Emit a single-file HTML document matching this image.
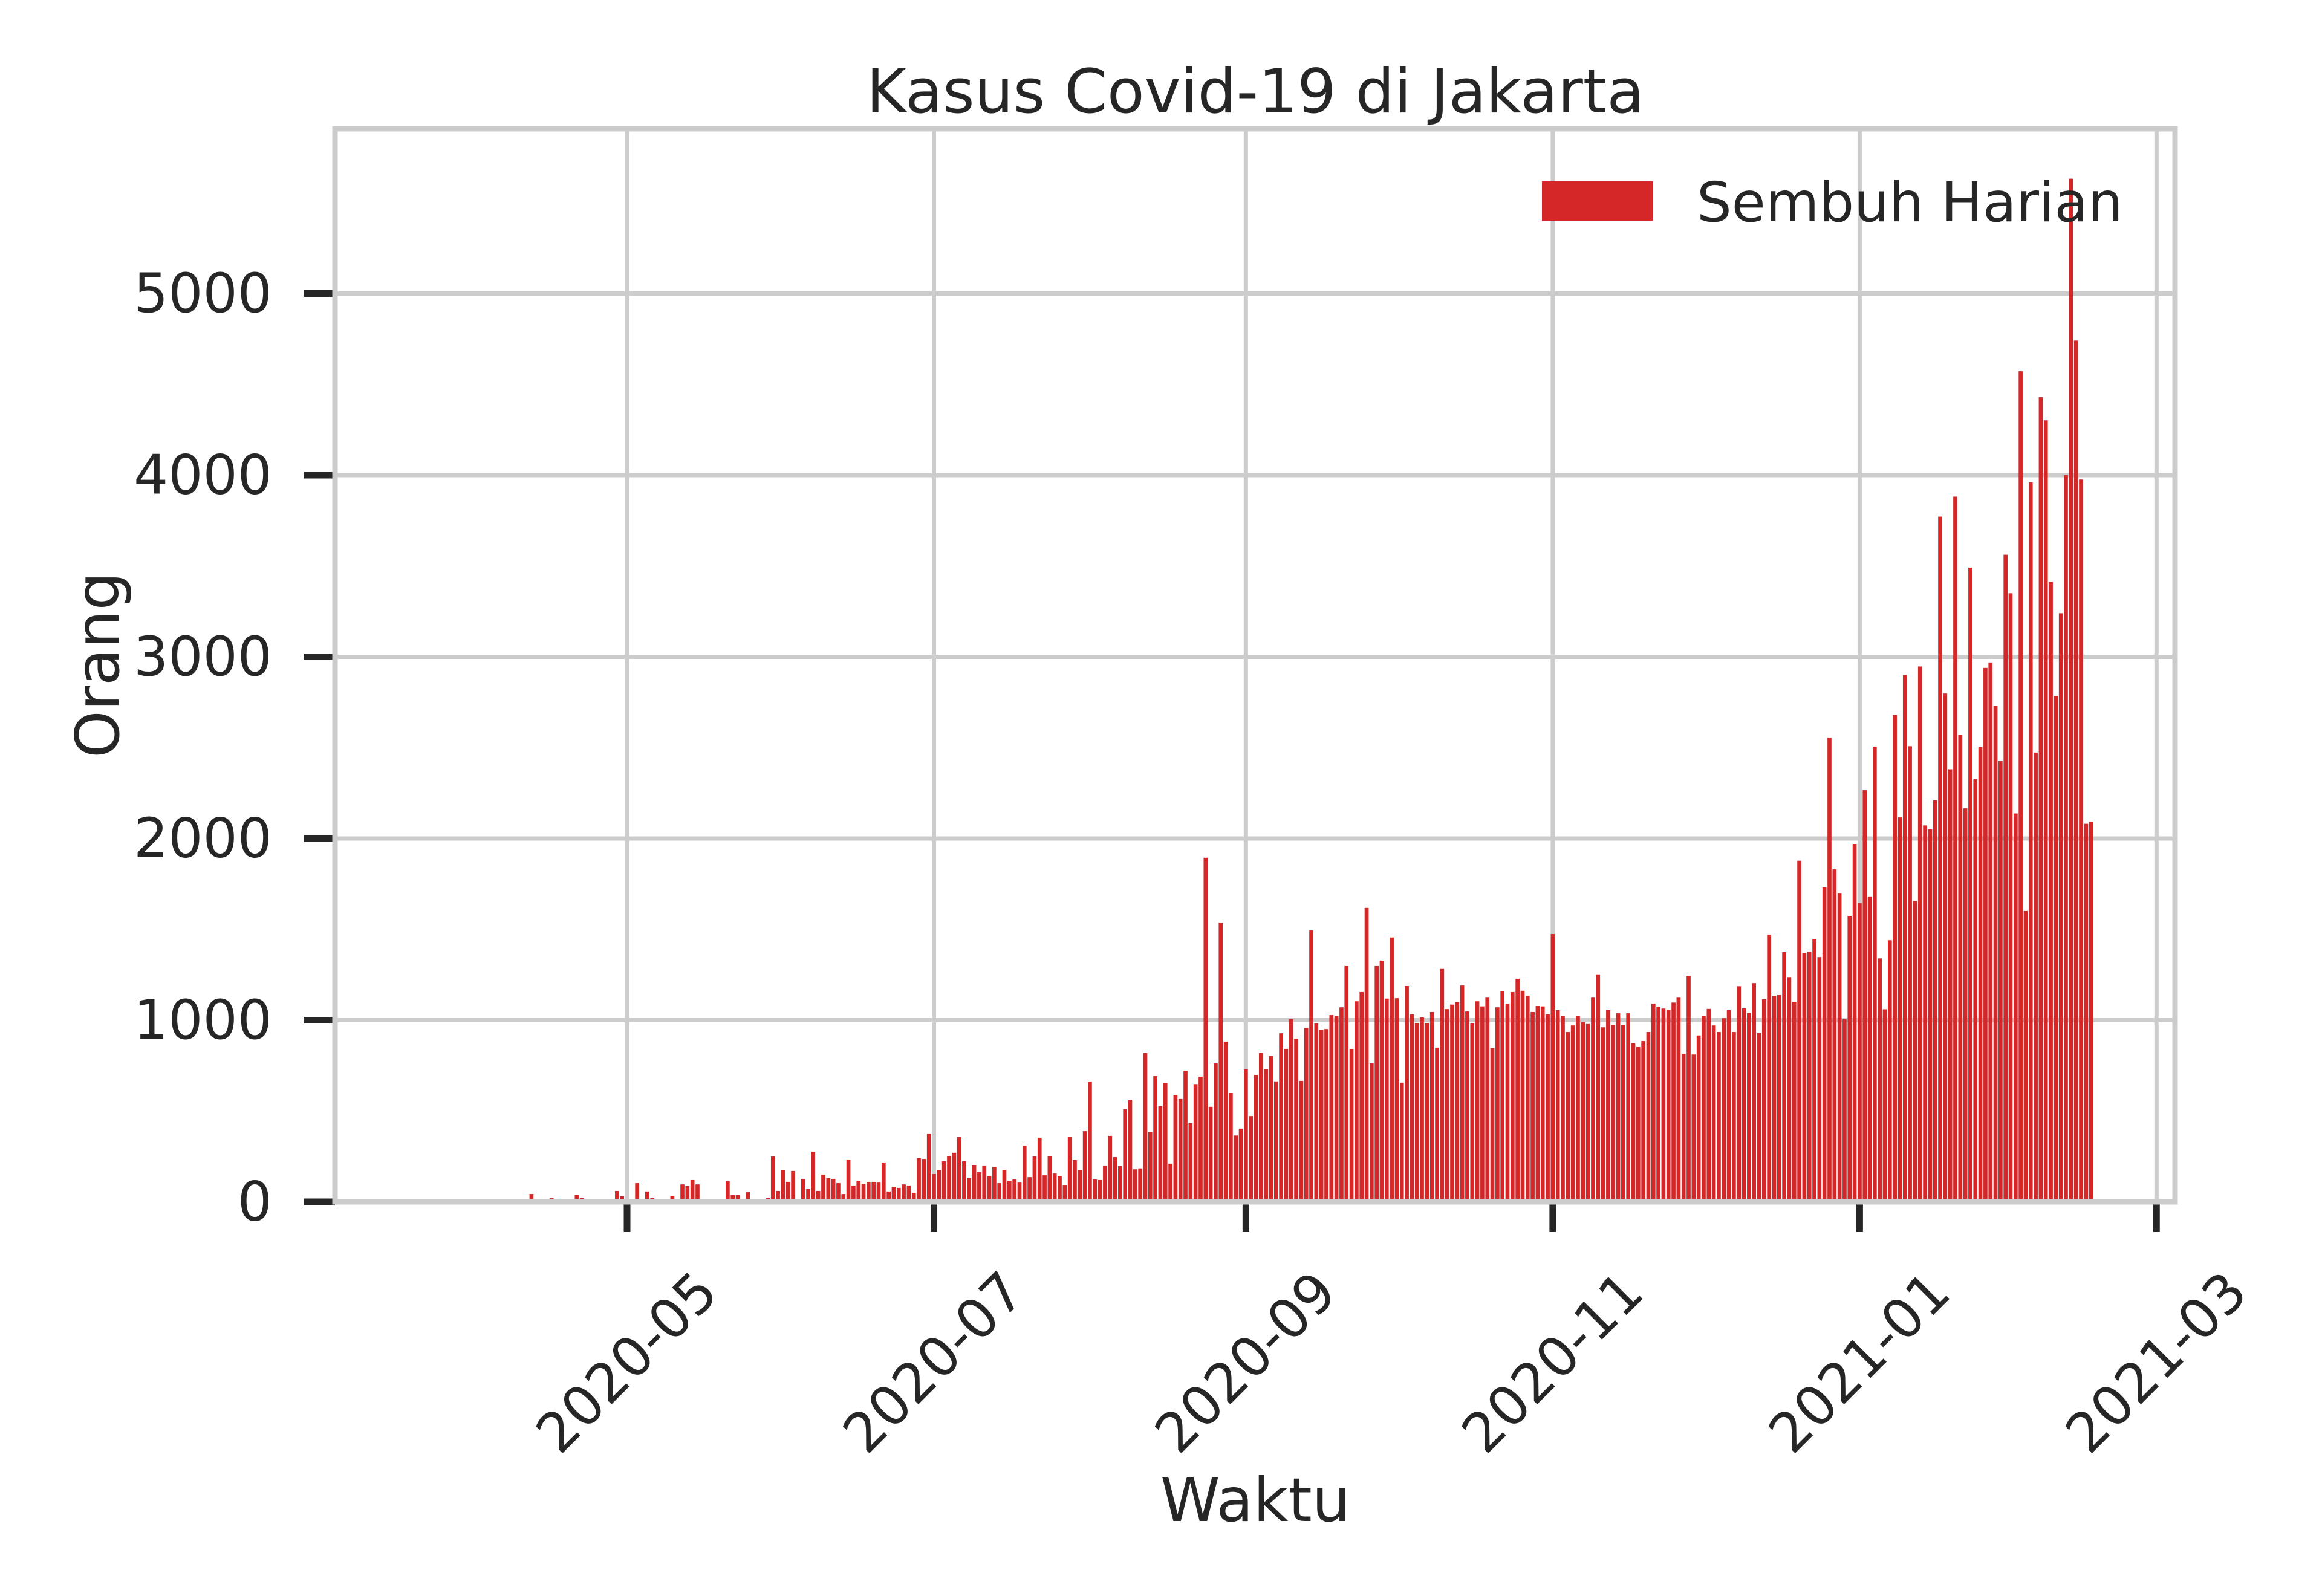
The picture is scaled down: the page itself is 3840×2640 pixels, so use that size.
<!DOCTYPE html>
<html><head><meta charset="utf-8"><style>
html,body{margin:0;padding:0;background:#fff;}
svg{display:block;font-family:"DejaVu Sans","Liberation Sans",sans-serif;}
</style></head><body>
<svg id="chart" width="3840" height="2640" viewBox="0 0 3840 2640" xmlns="http://www.w3.org/2000/svg">
<rect x="0" y="0" width="3840" height="2640" fill="#ffffff"/>
<g id="grid"></g>
<g id="bars"></g>
<g id="axes"></g>
<text x="2076" y="186" font-size="101" text-anchor="middle" fill="#262626">Kasus Covid-19 di Jakarta</text>
<text x="2076" y="2516" font-size="100" text-anchor="middle" fill="#262626">Waktu</text>
<text x="0" y="0" font-size="100" text-anchor="middle" fill="#262626" transform="translate(196,1100) rotate(-90)">Orang</text>
<g>
<rect x="2550" y="300" width="183" height="65" fill="#d62728"/>
<text x="2806" y="366" font-size="91" fill="#262626">Sembuh Harian</text>
</g>
</svg>
<script>
const startDate = "2020-04-12";
const recovered = [
43,0,3,0,20,0,0,13,0,40,20,0,0,0,0,0,10,60,30,
0,10,103,0,57,20,0,0,0,33,0,96,87,120,96,3,0,0,7,0,113,37,37,7,53,0,0,3,20,250,60,
173,110,170,3,126,70,276,60,150,130,126,103,43,233,90,116,100,110,110,106,216,57,83,77,96,90,50,240,236,376,
153,173,223,253,270,356,223,130,203,163,200,143,193,103,176,116,123,106,309,136,250,353,146,253,156,143,93,359,230,173,389,
662,123,120,200,363,246,197,510,559,179,184,819,386,692,526,653,210,589,566,722,433,648,689,1894,523,762,1537,882,599,365,403,
729,472,699,819,732,803,663,928,842,1005,898,666,958,1494,982,945,951,1028,1025,1071,1298,842,1104,1155,1618,762,1298,1328,1119,1455,
1121,656,1188,1032,985,1015,985,1045,849,1282,1061,1086,1099,1191,1048,982,1104,1076,1124,846,1071,1158,1091,1155,1228,1162,1135,1045,1078,1076,1032,
1474,1055,1025,935,971,1025,989,979,1124,1252,961,1055,974,1038,974,1038,872,852,885,935,1091,1075,1064,1058,1097,1124,815,1244,811,916,
1025,1062,971,935,1011,1055,935,1187,1065,1040,1204,929,1115,1471,1134,1138,1375,1237,1101,1878,1371,1377,1447,1347,1731,2555,1830,1700,1005,1574,1970,
1645,2266,1681,2506,1340,1060,1440,2680,2116,2900,2508,1656,2947,2072,2050,2210,3772,2798,2381,3882,2569,2166,3491,2326,2503,2939,2969,2729,2426,3562,3350,
2138,4572,1601,3960,2473,4429,4302,3413,2784,3240,4001,5632,4741,3976,2081,2092
];
const xTickDates = ["2020-05-01","2020-07-01","2020-09-01","2020-11-01","2021-01-01","2021-03-01"];
const xTickLabels = ["2020-05","2020-07","2020-09","2020-11","2021-01","2021-03"];
const yTicks = [0,1000,2000,3000,4000,5000];

const NS = "http://www.w3.org/2000/svg";
const L = 554, R = 3597, T = 213, B = 1988;
const refMs = Date.UTC(2020,4,1);
function dayOf(s){const p=s.split("-");return (Date.UTC(+p[0],+p[1]-1,+p[2])-refMs)/86400000;}
const X0 = 1037, DPX = 8.32;
function xScale(d){return X0 + d*DPX;}
function yScale(v){return B - v*0.3005;}
function mk(tag, attrs, parent){const e=document.createElementNS(NS,tag);for(const k in attrs)e.setAttribute(k,attrs[k]);parent.appendChild(e);return e;}

const grid = document.getElementById("grid");
const bars = document.getElementById("bars");
const axes = document.getElementById("axes");

yTicks.forEach(v=>{
  const y=yScale(v);
  const g=mk("line",{x1:L,x2:R,y1:y,y2:y,stroke:"#cccccc","stroke-width":7},grid);
  
  
  const t=mk("line",{x1:503,x2:L,y1:y,y2:y,stroke:"#262626","stroke-width":11},axes);
  
  
  const lb=mk("text",{x:450,y:y,"font-size":90,"text-anchor":"end","dominant-baseline":"central",fill:"#262626"},axes);
  lb.textContent=String(v);
  
  
});
xTickDates.forEach((d,i)=>{
  const x=xScale(dayOf(d));
  const g=mk("line",{x1:x,x2:x,y1:T,y2:B,stroke:"#cccccc","stroke-width":7},grid);
  
  
  const t=mk("line",{x1:x,x2:x,y1:B,y2:B+50,stroke:"#262626","stroke-width":11},axes);
  
  
  const lb=mk("text",{x:0,y:0,"font-size":90,"text-anchor":"middle","dominant-baseline":"central",fill:"#262626",transform:"translate("+x+",2254) rotate(-45)"},axes);
  lb.textContent=xTickLabels[i];
  
  
});
const s0 = dayOf(startDate);
const bw = DPX*0.8;
recovered.forEach((v,i)=>{
  const x=xScale(s0+i);
  const y=yScale(v);
  const r=mk("rect",{x:x-bw/2,y:y,width:bw,height:Math.max(0,B-y),fill:"#d62728"},bars);
  
  
});
const frame=mk("rect",{x:L,y:T,width:R-L,height:B-T,fill:"none",stroke:"#cccccc","stroke-width":9},axes);


</script>
</body></html>
